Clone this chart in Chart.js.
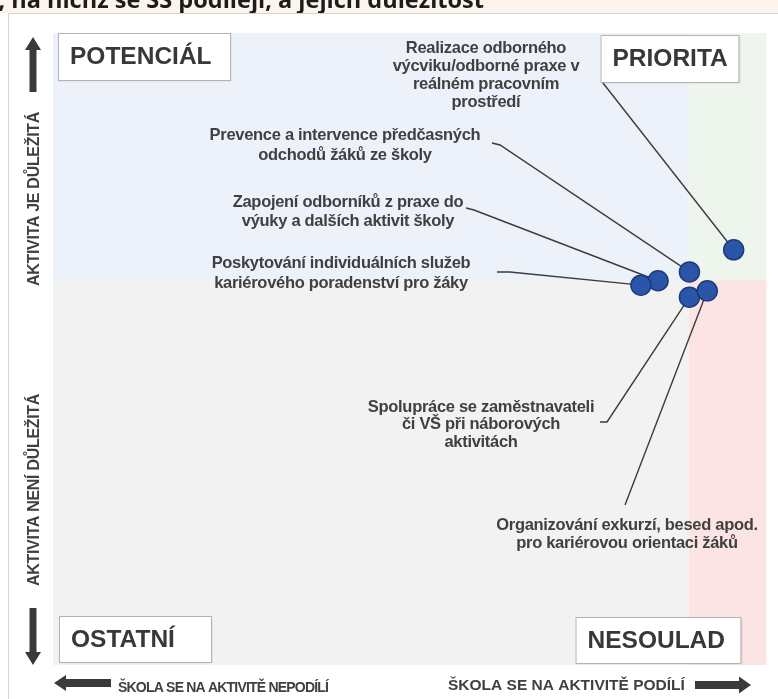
<!DOCTYPE html>
<html>
<head>
<meta charset="utf-8">
<script src="https://cdn.jsdelivr.net/npm/chart.js@4"></script>
<style>
  body { margin: 0; background: #ffffff; }
  #wrap { width: 778px; height: 699px; }
</style>
</head>
<body>
<div id="wrap"><canvas id="chart" width="778" height="699"></canvas></div>
<script>
// activities (label lines) and their position in the matrix
const activityLabels = [
    ["Realizace odborného", "výcviku/odborné praxe v", "reálném pracovním", "prostředí"],
    ["Prevence a intervence předčasných", "odchodů žáků ze školy"],
    ["Zapojení odborníků z praxe do", "výuky a dalších aktivit školy"],
    ["Poskytování individuálních služeb", "kariérového poradenství pro žáky"],
    ["Spolupráce se zaměstnavateli", "či VŠ při náborových", "aktivitách"],
    ["Organizování exkurzí, besed apod.", "pro kariérovou orientaci žáků"]
];
const participationValues = [95.4, 89.2, 84.8, 82.4, 89.2, 91.7];
const importanceValues = [65.7, 62.2, 60.8, 60.1, 58.2, 59.2];

// quadrant split and names
const xSplit = 89.1;
const ySplit = 60.9;
const quadrantNames = ["POTENCIÁL", "PRIORITA", "OSTATNÍ", "NESOULAD"];
const axisTexts = ["AKTIVITA JE DŮLEŽITÁ", "AKTIVITA NENÍ DŮLEŽITÁ", "ŠKOLA SE NA AKTIVITĚ NEPODÍLÍ", "ŠKOLA SE NA AKTIVITĚ PODÍLÍ"];
const titleText = ", na nichž se SŠ podílejí, a jejich důležitost";

// where the callout texts sit (center x, first line y, leader start)
const calloutLayout = [
    { cx: 486, y: 48, lh: 18, from: [[603, 83]] },
    { cx: 345, y: 135, lh: 20, from: [[492, 143], [500, 145]] },
    { cx: 348, y: 202, lh: 19, from: [[466, 208], [474, 210]] },
    { cx: 341, y: 263, lh: 20, from: [[497, 272], [510, 272]] },
    { cx: 481, y: 407, lh: 17.5, from: [[600, 422], [607, 422]] },
    { cx: 627, y: 525, lh: 18, from: [[625, 505]] }
];

const quadColors = ["#edf2fa", "#eef5ec", "#f2f2f2", "#fde4e4"];
const textColor = "#404040";

const points = participationValues.map((v, i) => ({ x: v, y: importanceValues[i] }));

function arrow(ctx, x1, y1, x2, y2, shaft, head, headLen) {
    const ang = Math.atan2(y2 - y1, x2 - x1);
    const len = Math.hypot(x2 - x1, y2 - y1);
    ctx.save();
    ctx.translate(x1, y1);
    ctx.rotate(ang);
    ctx.fillStyle = "#3a3a3a";
    ctx.beginPath();
    ctx.moveTo(0, -shaft / 2);
    ctx.lineTo(len - headLen, -shaft / 2);
    ctx.lineTo(len - headLen, -head / 2);
    ctx.lineTo(len, 0);
    ctx.lineTo(len - headLen, head / 2);
    ctx.lineTo(len - headLen, shaft / 2);
    ctx.lineTo(0, shaft / 2);
    ctx.closePath();
    ctx.fill();
    ctx.restore();
}

function labelBox(ctx, text, x, y, w, h) {
    ctx.save();
    ctx.shadowColor = "rgba(0,0,0,0.12)";
    ctx.shadowBlur = 2;
    ctx.shadowOffsetX = 1;
    ctx.shadowOffsetY = 1;
    ctx.fillStyle = "#ffffff";
    ctx.fillRect(x, y, w, h);
    ctx.restore();
    ctx.strokeStyle = "#b3b3b3";
    ctx.lineWidth = 1;
    ctx.strokeRect(x + 0.5, y + 0.5, w, h);
    ctx.fillStyle = "#383838";
    ctx.font = "bold 24.5px 'Liberation Sans', Arial, sans-serif";
    ctx.textAlign = "left";
    ctx.textBaseline = "middle";
    ctx.fillText(text, x + 12, y + h / 2 + 1);
}

const matrixPlugin = {
    id: "matrix",
    beforeDraw(chart) {
        const ctx = chart.ctx;
        ctx.save();
        // top strip with the cut title
        ctx.fillStyle = "#fdf4ec";
        ctx.fillRect(0, 0, 778, 13);
        ctx.fillStyle = "#1c1c1c";
        ctx.font = "bold 23.5px 'Open Sans', sans-serif";
        ctx.textAlign = "right";
        ctx.textBaseline = "alphabetic";
        ctx.fillText(titleText, 484, 8);
        // panel frame
        ctx.strokeStyle = "#d4d4d4";
        ctx.lineWidth = 1;
        ctx.beginPath();
        ctx.moveTo(8.5, 699);
        ctx.lineTo(8.5, 13.5);
        ctx.lineTo(778, 13.5);
        ctx.stroke();
        ctx.restore();
    },
    beforeDatasetsDraw(chart) {
        const ctx = chart.ctx;
        const a = chart.chartArea;
        const xs = chart.scales.x.getPixelForValue(xSplit);
        const ys = chart.scales.y.getPixelForValue(ySplit);
        ctx.save();
        ctx.fillStyle = quadColors[0];
        ctx.fillRect(a.left, a.top, xs - a.left, ys - a.top);
        ctx.fillStyle = quadColors[1];
        ctx.fillRect(xs, a.top, a.right - xs, ys - a.top);
        ctx.fillStyle = quadColors[2];
        ctx.fillRect(a.left, ys, xs - a.left, a.bottom - ys);
        ctx.fillStyle = quadColors[3];
        ctx.fillRect(xs, ys, a.right - xs, a.bottom - ys);

        // quadrant name boxes
        labelBox(ctx, quadrantNames[0], a.left + 5, a.top, 172, 47);
        labelBox(ctx, quadrantNames[1], a.right - 166, a.top + 2, 138, 47);
        labelBox(ctx, quadrantNames[2], a.left + 6, a.bottom - 49, 152, 46);
        labelBox(ctx, quadrantNames[3], a.right - 191, a.bottom - 48, 165, 46);

        // callouts and leader lines
        const meta = chart.getDatasetMeta(0);
        ctx.strokeStyle = "#3c3c3c";
        ctx.lineWidth = 1.4;
        calloutLayout.forEach((c, i) => {
            const pt = meta.data[i];
            ctx.beginPath();
            ctx.moveTo(c.from[0][0], c.from[0][1]);
            c.from.slice(1).forEach(p => ctx.lineTo(p[0], p[1]));
            ctx.lineTo(pt.x, pt.y);
            ctx.stroke();

            ctx.fillStyle = textColor;
            ctx.font = "bold 16.5px 'Liberation Sans', Arial, sans-serif";
            ctx.letterSpacing = "-0.3px";
            ctx.textAlign = "center";
            ctx.textBaseline = "middle";
            activityLabels[i].forEach((line, k) => {
                ctx.fillText(line, c.cx, c.y + k * c.lh);
            });
            ctx.letterSpacing = "0px";
        });
        ctx.restore();
    },
    afterDraw(chart) {
        const ctx = chart.ctx;
        ctx.save();
        // importance arrows and texts on the left
        arrow(ctx, 33, 92, 33, 37, 7, 16, 13);
        arrow(ctx, 33, 608, 33, 665, 7, 16, 13);
        ctx.fillStyle = textColor;
        ctx.font = "bold 16px 'Liberation Sans', Arial, sans-serif";
        ctx.letterSpacing = "-0.3px";
        ctx.textAlign = "center";
        ctx.textBaseline = "middle";
        [[axisTexts[0], 199], [axisTexts[1], 490]].forEach(([t, y]) => {
            ctx.save();
            ctx.translate(35, y);
            ctx.rotate(-Math.PI / 2);
            ctx.fillText(t, 0, 0);
            ctx.restore();
        });
        // participation arrows and texts at the bottom
        arrow(ctx, 111, 683, 54, 683, 8, 16, 12);
        arrow(ctx, 695, 685, 751, 685, 8, 17, 12);
        ctx.textAlign = "left";
        ctx.font = "bold 14px 'Liberation Sans', Arial, sans-serif";
        ctx.letterSpacing = "-0.8px";
        ctx.fillText(axisTexts[2], 118, 688);
        ctx.font = "bold 15.5px 'Liberation Sans', Arial, sans-serif";
        ctx.letterSpacing = "0px";
        ctx.fillText(axisTexts[3], 448, 686);
        ctx.restore();
    }
};

new Chart(document.getElementById("chart"), {
    type: "scatter",
    data: {
        datasets: [{
            label: "Aktivity",
            data: points,
            pointRadius: 10,
            pointHoverRadius: 10,
            backgroundColor: "#2b55a9",
            borderColor: "#1d3b7c",
            borderWidth: 1.5
        }]
    },
    options: {
        responsive: false,
        animation: false,
        layout: { padding: { left: 53, right: 10, top: 33, bottom: 34 } },
        scales: {
            x: { display: false, min: 0, max: 100 },
            y: { display: false, min: 0, max: 100 }
        },
        plugins: {
            legend: { display: false },
            tooltip: { enabled: false }
        }
    },
    plugins: [matrixPlugin]
});
</script>
</body>
</html>
